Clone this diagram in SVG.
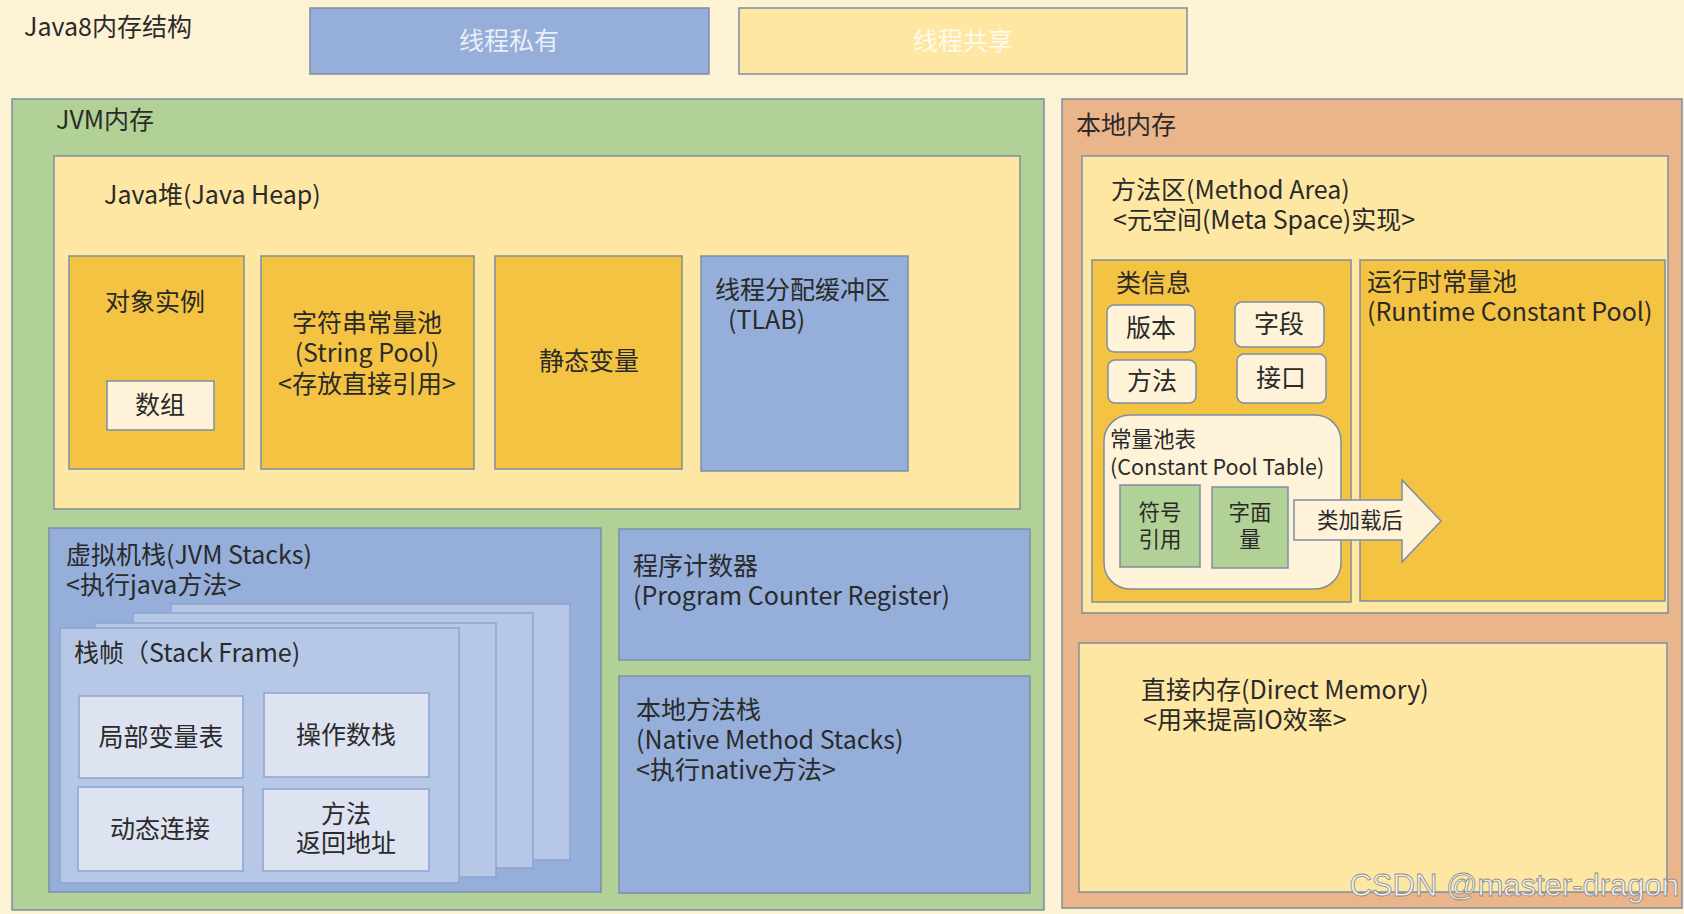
<svg xmlns="http://www.w3.org/2000/svg" width="1684" height="914" viewBox="0 0 1684 914">
<style>
text{font-family:"Noto Sans CJK SC","Noto Sans",sans-serif;fill:#2a2a2a;font-size:25px}
.b{stroke:#7d8ea6;stroke-width:1.5}
.blue{fill:#95aeda}
.ylw{fill:#fee7a2}
.grn{fill:#b2d196}
.org{fill:#eab58a}
.gold{fill:#f5c342}
.crm{fill:#fef3d8}
.frm{fill:#b6c8e5;stroke:#8ea4cf;stroke-width:1.5}
.inr{fill:#dde3f1;stroke:#8ea4cf;stroke-width:1.5}
.c{text-anchor:middle}
.s{font-size:21.5px}
.w{fill:#ffffff;opacity:0.8}
</style>
<rect width="1684" height="914" fill="#fef2d5"/>
<text x="24" y="36">Java8内存结构</text>
<g id="legend-private"><rect class="b blue" x="310" y="8" width="399" height="66"/><text class="c w" x="509" y="50">线程私有</text></g>
<g id="legend-shared"><rect class="b ylw" x="739" y="8" width="448" height="66"/><text class="c w" x="963" y="50">线程共享</text></g>

<g id="jvm"><rect class="b grn" x="12" y="99" width="1032" height="811"/><text x="56" y="129">JVM内存</text></g>
<g id="heap"><rect class="b ylw" x="54" y="156" width="966" height="353"/><text x="104" y="204">Java堆(Java Heap)</text></g>
<g id="obj"><rect class="b gold" x="69" y="256" width="175" height="213"/><text class="c" x="155" y="311">对象实例</text></g>
<g id="array"><rect class="b crm" x="107" y="381" width="107" height="49"/><text class="c" x="160" y="414">数组</text></g>
<g id="strpool"><rect class="b gold" x="261" y="256" width="213" height="213"/>
<text class="c" x="367" y="332">字符串常量池<tspan x="367" dy="30">(String Pool)</tspan><tspan x="367" dy="31">&lt;存放直接引用&gt;</tspan></text></g>
<g id="static"><rect class="b gold" x="495" y="256" width="187" height="213"/><text class="c" x="589" y="370">静态变量</text></g>
<g id="tlab"><rect class="b blue" x="701" y="256" width="207" height="215"/><text x="715" y="299">线程分配缓冲区<tspan x="728" dy="30">(TLAB)</tspan></text></g>

<g id="stacks"><rect class="b blue" x="49" y="528" width="552" height="364"/>
<text x="66" y="564">虚拟机栈(JVM Stacks)<tspan x="66" dy="30">&lt;执行java方法&gt;</tspan></text></g>
<g id="frames">
<rect class="frm" x="171" y="604" width="399" height="256"/>
<rect class="frm" x="133" y="613" width="400" height="255"/>
<rect class="frm" x="95" y="623" width="401" height="254"/>
<rect class="frm" x="60" y="628" width="399" height="255"/>
<text x="74" y="662">栈帧（Stack Frame)</text></g>
<g id="locals"><rect class="inr" x="79" y="696" width="164" height="82"/><text class="c" x="161" y="746">局部变量表</text></g>
<g id="operand"><rect class="inr" x="264" y="693" width="165" height="84"/><text class="c" x="346" y="744">操作数栈</text></g>
<g id="dynlink"><rect class="inr" x="78" y="787" width="165" height="84"/><text class="c" x="160" y="838">动态连接</text></g>
<g id="retaddr"><rect class="inr" x="263" y="789" width="166" height="82"/><text class="c" x="346" y="823">方法<tspan x="346" dy="29">返回地址</tspan></text></g>

<g id="pc"><rect class="b blue" x="619" y="529" width="411" height="131"/>
<text x="633" y="575">程序计数器<tspan x="633" dy="30">(Program Counter Register)</tspan></text></g>
<g id="native"><rect class="b blue" x="619" y="676" width="411" height="217"/>
<text x="636" y="719">本地方法栈<tspan x="636" dy="30">(Native Method Stacks)</tspan><tspan x="636" dy="30">&lt;执行native方法&gt;</tspan></text></g>

<g id="local"><rect class="b org" x="1062" y="99" width="620" height="809"/><text x="1076" y="134">本地内存</text></g>
<g id="method"><rect class="b ylw" x="1082" y="156" width="586" height="457"/>
<text x="1111" y="199">方法区(Method Area)<tspan x="1113" dy="30">&lt;元空间(Meta Space)实现&gt;</tspan></text></g>
<g id="classinfo"><rect class="b gold" x="1092" y="260" width="259" height="342"/><text x="1116" y="292">类信息</text></g>
<g id="ver"><rect class="b crm" x="1107" y="305" width="88" height="47" rx="7"/><text class="c" x="1151" y="337">版本</text></g>
<g id="field"><rect class="b crm" x="1235" y="302" width="89" height="45" rx="7"/><text class="c" x="1279" y="333">字段</text></g>
<g id="meth"><rect class="b crm" x="1108" y="360" width="88" height="43" rx="7"/><text class="c" x="1152" y="390">方法</text></g>
<g id="iface"><rect class="b crm" x="1237" y="354" width="89" height="49" rx="7"/><text class="c" x="1281" y="387">接口</text></g>
<g id="cpt"><rect class="b crm" x="1104" y="415" width="237" height="174" rx="26"/>
<text class="s" x="1110" y="447">常量池表<tspan x="1110" dy="28">(Constant Pool Table)</tspan></text></g>
<g id="symref"><rect class="b grn" x="1120" y="485" width="80" height="82"/><text class="c s" x="1160" y="520">符号<tspan x="1160" dy="27">引用</tspan></text></g>
<g id="literal"><rect class="b grn" x="1212" y="487" width="76" height="81"/><text class="c s" x="1250" y="520">字面<tspan x="1250" dy="27">量</tspan></text></g>
<g id="rcp"><rect class="b gold" x="1360" y="260" width="305" height="341"/>
<text x="1367" y="291">运行时常量池<tspan x="1367" dy="30">(Runtime Constant Pool)</tspan></text></g>
<g id="connectors"><path class="b crm" d="M1294 500 H1402 V480 L1441 521 L1402 562 V540 H1294 Z"/><text class="c s" x="1360" y="528">类加载后</text></g>

<g id="direct"><rect class="b ylw" x="1079" y="643" width="588" height="249"/>
<text x="1141" y="699">直接内存(Direct Memory)<tspan x="1143" dy="30">&lt;用来提高IO效率&gt;</tspan></text></g>
<text x="1679" y="896" text-anchor="end" style="font-family:'Liberation Sans',sans-serif;font-size:31px;fill:#f2f2f2;stroke:#8a8a8a;stroke-width:0.8">CSDN @master-dragon</text>
</svg>
